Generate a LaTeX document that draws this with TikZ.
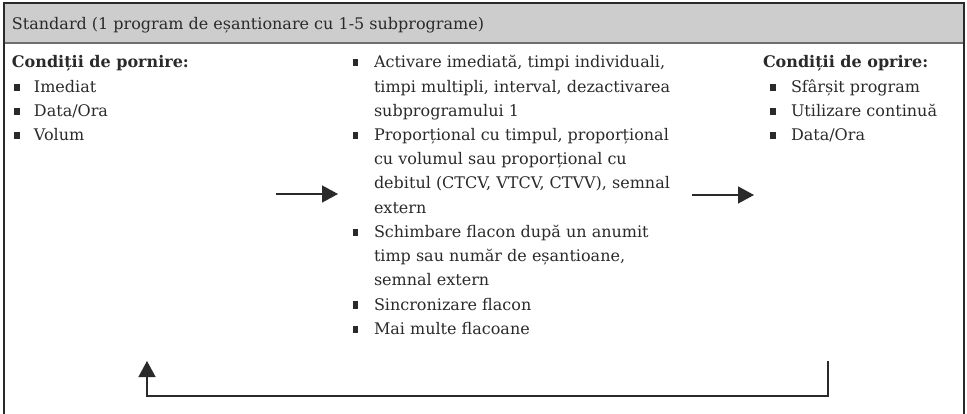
\documentclass[tikz,border=0pt]{standalone}
\usepackage{fontspec}
\setmainfont{DejaVu Serif}
\usetikzlibrary{arrows.meta}
\definecolor{hdrgray}{HTML}{CDCDCD}
\definecolor{sepgray}{HTML}{6E6E6E}
\definecolor{ink}{HTML}{2A2A2A}
\begin{document}
\begin{tikzpicture}[x=1pt,y=-1pt,
  txt/.style={anchor=base west,inner sep=0pt,outer sep=0pt,text=ink,font=\fontsize{16}{24}\selectfont},
  hd/.style={txt,font=\fontsize{16}{24}\selectfont\bfseries},
  bul/.style={fill=ink,draw=none},
  border/.style={draw=ink,line width=1.3pt},
  arr/.style={draw=ink,line width=1.5pt,-{Triangle[length=16pt,width=17pt]}}
]
\useasboundingbox (0,0) rectangle (967,414);
% frame
\fill[hdrgray] (4,3) rectangle (964,43);
\draw[sepgray,line width=2pt] (4,43) -- (964,43);
\draw[border] (4,414) -- (4,3) -- (964,3) -- (964,414);
\node[txt] (title) at (12,30) {Standard (1 program de eșantionare cu 1-5 subprograme)};
% left column
\node[hd] (lh) at (12,68) {Condiții de pornire:};
\foreach \t [count=\i] in {Imediat,Data/Ora,Volum}{
  \fill[bul] (14,{68+24.2*\i-8.5}) rectangle (19.5,{68+24.2*\i-1.5});
  \node[txt] (l\i) at (34,{68+24.2*\i}) {\t};
}
% middle column
\foreach \k in {0,3,7,10,11}{
  \fill[bul] (352.5,{68+24.2*\k-8.5}) rectangle (358,{68+24.2*\k-1.5});
}
\node[txt] (m0) at (374,68) {Activare imediată, timpi individuali,};
\node[txt] (m1) at (374,{68+24.2*1}) {timpi multipli, interval, dezactivarea};
\node[txt] (m2) at (374,{68+24.2*2}) {subprogramului 1};
\node[txt] (m3) at (374,{68+24.2*3}) {Proporțional cu timpul, proporțional};
\node[txt] (m4) at (374,{68+24.2*4}) {cu volumul sau proporțional cu};
\node[txt] (m5) at (374,{68+24.2*5}) {debitul (CTCV, VTCV, CTVV), semnal};
\node[txt] (m6) at (374,{68+24.2*6}) {extern};
\node[txt] (m7) at (374,{68+24.2*7}) {Schimbare flacon după un anumit};
\node[txt] (m8) at (374,{68+24.2*8}) {timp sau număr de eșantioane,};
\node[txt] (m9) at (374,{68+24.2*9}) {semnal extern};
\node[txt] (m10) at (374,{68+24.2*10}) {Sincronizare flacon};
\node[txt] (m11) at (374,{68+24.2*11}) {Mai multe flacoane};
% right column
\node[hd] (rh) at (763,68) {Condiții de oprire:};
\foreach \t [count=\i] in {Sfârșit program,Utilizare continuă,Data/Ora}{
  \fill[bul] (770,{68+24.2*\i-8.5}) rectangle (775.5,{68+24.2*\i-1.5});
  \node[txt] (r\i) at (791,{68+24.2*\i}) {\t};
}
% arrows
\coordinate (a1s) at (276,194);
\coordinate (a1e) at (338,194);
\draw[arr] (a1s) -- (a1e);
\coordinate (a2s) at (692,195);
\coordinate (a2e) at (754,195);
\draw[arr] (a2s) -- (a2e);
\coordinate (b1) at (828,361);
\coordinate (b2) at (828,396);
\coordinate (b3) at (147,396);
\coordinate (b4) at (147,361);
\draw[arr,line join=miter] (b1) -- (b2) -- (b3) -- (b4);
\end{tikzpicture}
\end{document}
